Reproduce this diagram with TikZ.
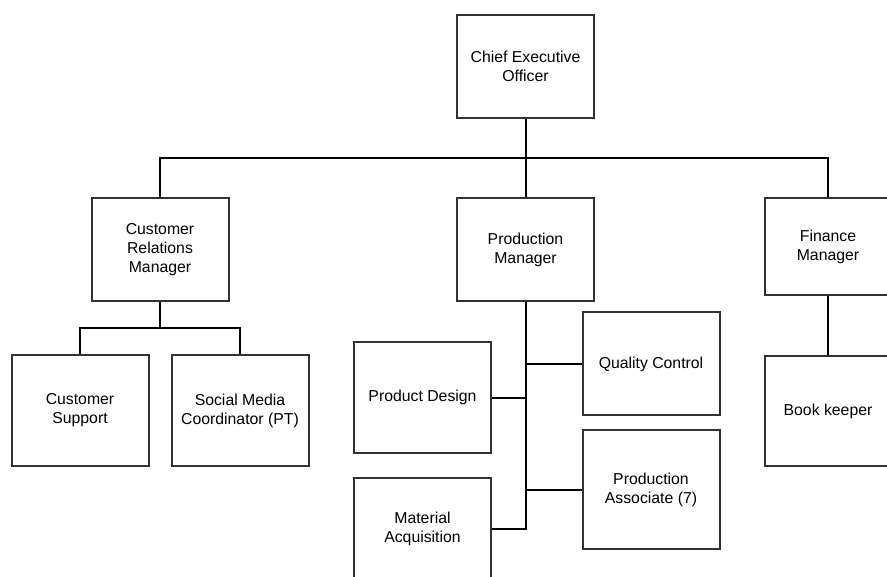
\documentclass[tikz,border=0pt]{standalone}
\usepackage{fontspec}
\setmainfont{Liberation Sans}
\usepackage{xcolor}
\usepackage{tikz}
\usetikzlibrary{positioning,calc}
\definecolor{boxline}{RGB}{50,50,50}

\begin{document}
\begin{tikzpicture}[
					x=1pt, y=-1pt,
					% Định nghĩa style cho ô chức danh
					role/.style={
						draw=boxline,
						line width=2pt,
						fill=white,
						minimum width=137pt,
						minimum height=103pt,
						inner sep=0pt,
						align=center,
						font=\fontsize{15.8}{19}\selectfont,
						anchor=center
					},
					% Đường nối trong sơ đồ
					link/.style={draw=black, line width=2pt}
					]
					\useasboundingbox (0,0) rectangle (887,577);
					
					% Cấp cao nhất
					\node[role] (ceo) at (525.5, 66.5) {Chief Executive\\Officer};
					
					% Các trưởng bộ phận
					\node[role] (crm) at (160, 249.5)   {Customer\\Relations\\Manager};
					\node[role] (pm)  at (525.5, 249.5) {Production\\Manager};
					\node[role, minimum width=126pt, minimum height=97pt] (fin) at (828, 246.5) {Finance\\Manager};
					
					% Nhân viên dưới Customer Relations
					\node[role, minimum height=111pt] (cs)  at (80, 410.5)  {Customer\\Support};
					\node[role, minimum height=111pt] (smc) at (240, 410.5) {Social Media\\Coordinator (PT)};
					
					% Nhân viên dưới Production
					\node[role, minimum height=111pt] (pd) at (422.5, 397.7) {Product Design};
					\node[role] (ma) at (422.5, 529) {Material\\Acquisition};
					\node[role] (qc) at (651, 364) {Quality Control};
					\node[role, minimum height=119pt] (pa) at (651, 489.5) {Production\\Associate (7)};
					
					% Nhân viên dưới Finance
					\node[role, minimum width=126pt, minimum height=110pt] (bk) at (828, 411) {Book keeper};
					
					% Thanh ngang nối CEO với các trưởng bộ phận
					\coordinate (bus) at (525.5, 158);
					\draw[link] (ceo.south) -- (pm.north);
					\draw[link] (crm.north) |- (bus) -| (fin.north);
					
					% Nhánh Customer Relations
					\coordinate (crmsplit) at (160, 328);
					\draw[link] (crm.south) -- (crmsplit);
					\draw[link] (cs.north) |- (crmsplit) -| (smc.north);
					
					% Nhánh Production (trục dọc + các nhánh ngang)
					\draw[link] (pm.south) |- (ma.east);
					\draw[link] (pd.east) -- (pd.east -| pm.south);
					\draw[link] (qc.west) -- (qc.west -| pm.south);
					\draw[link] (pa.west) -- (pa.west -| pm.south);
					
					% Nhánh Finance
					\draw[link] (fin.south) -- (bk.north);
				\end{tikzpicture}
\end{document}
